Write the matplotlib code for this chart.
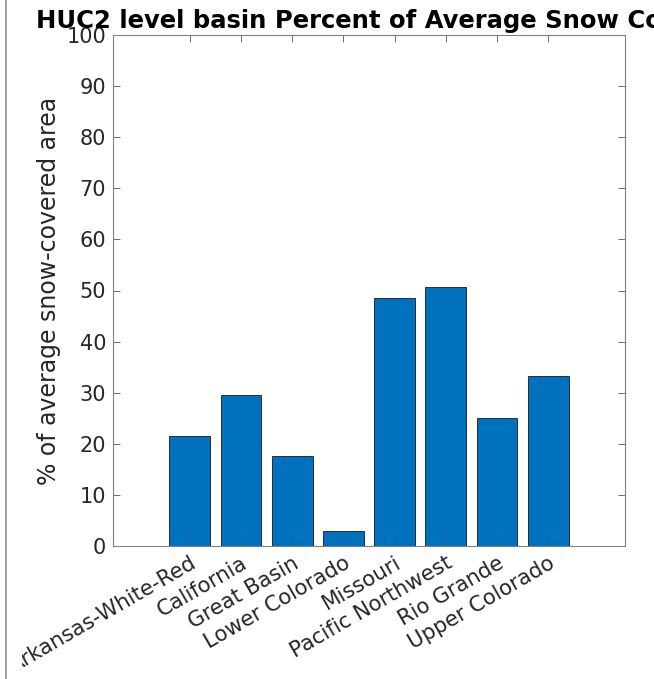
import matplotlib
matplotlib.use("Agg")
import matplotlib.pyplot as plt
from matplotlib.lines import Line2D
from matplotlib.patches import Rectangle

categories = ["Arkansas-White-Red", "California", "Great Basin", "Lower Colorado",
              "Missouri", "Pacific Northwest", "Rio Grande", "Upper Colorado"]
values = [21.5, 29.5, 17.6, 2.9, 48.5, 50.7, 25.0, 33.2]
yticks = [0, 10, 20, 30, 40, 50, 60, 70, 80, 90, 100]

plt.rcParams['font.family'] = ['DejaVu Sans']
fig = plt.figure(figsize=(6.54, 6.79), dpi=100)
ax = fig.add_axes([113/654, 1-546/679, (625-113)/654, (546-35)/679])

pos = list(range(1, len(categories)+1))
ax.bar(pos, values, width=0.8, color='#0072BD', edgecolor='#1a1a1a', linewidth=0.6)

ax.set_xlim(-0.5, 9.5)
ax.set_ylim(0, 100)
ax.set_yticks(yticks)
ax.set_xticks(pos)
ax.set_xticklabels(categories, rotation=30, ha='right', rotation_mode='anchor',
                   fontsize=15.3, color='#262626')
ax.tick_params(axis='y', labelsize=15, labelcolor='#262626')
ax.tick_params(direction='in', length=5, width=0.6, color='#555555',
               top=True, right=True, pad=5)
for s in ax.spines.values():
    s.set_color('#808080')
    s.set_linewidth(0.8)
ax.set_ylabel('% of average snow-covered area', fontsize=17, color='#262626', labelpad=4)

fig.text(36/654, 1-28/679, 'HUC2 level basin Percent of Average Snow Cover',
         ha='left', va='baseline', fontsize=17.5, fontweight='bold', color='black')

# panel edge: the first tick label is cut off where the neighbouring panel begins
fig.add_artist(Rectangle((8/654, 0), 14/654, 90/679, transform=fig.transFigure,
                         facecolor='white', edgecolor='none', zorder=10))
fig.add_artist(Line2D([6/654, 6/654], [0, 1], transform=fig.transFigure,
                      color='#909090', linewidth=1.2, zorder=11))

fig.savefig('out.png', dpi=100)
